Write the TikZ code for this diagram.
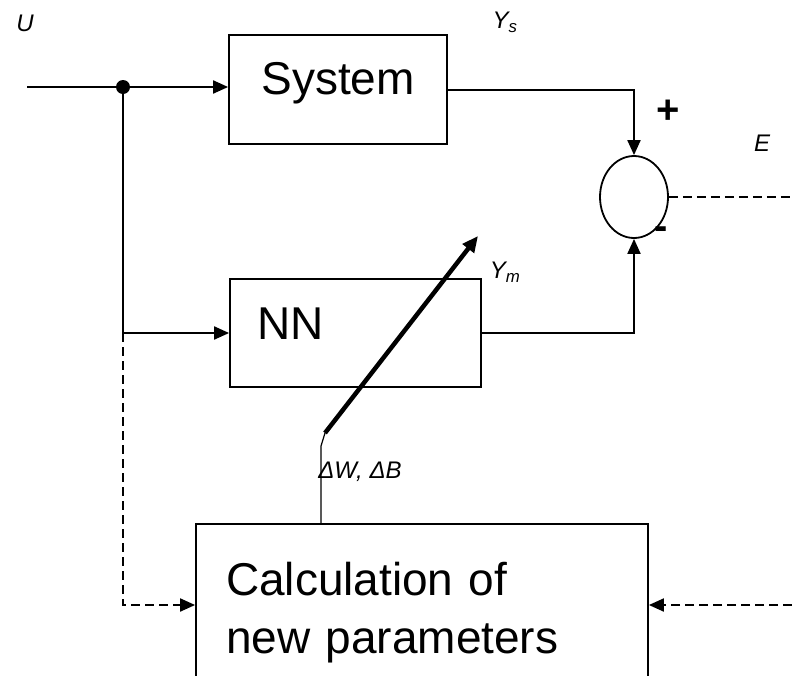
\documentclass[tikz,border=0pt]{standalone}
\usepackage{fontspec}
\setmainfont{Liberation Sans}
\usetikzlibrary{shapes.geometric, arrows.meta, positioning, calc}

\begin{document}
\begin{tikzpicture}[
        x=1pt, y=-1pt,
        block/.style={draw, line width=1.8pt, font=\fontsize{46}{58}\selectfont, inner sep=0pt},
        summer/.style={ellipse, draw, line width=1.8pt, minimum width=68pt, minimum height=82pt, inner sep=0pt},
        tag/.style={font=\fontsize{24}{26}\selectfont\itshape, inner sep=0pt},
        sign/.style={font=\fontsize{40}{40}\selectfont\bfseries, inner sep=0pt},
        signal/.style={line width=2pt, -{Triangle[length=15pt, width=13pt]}},
        wire/.style={line width=2pt},
        feedback/.style={line width=2pt, dash pattern=on 9pt off 5pt, -{Triangle[length=15pt, width=13pt]}},
        adjust/.style={line width=4.5pt, -{Triangle[length=16pt, width=14pt]}}
    ]
    \path[use as bounding box, clip] (0,0) rectangle (792,675);

    % Blocks
    \node[block, minimum width=218pt, minimum height=109pt, text height=34pt, text depth=25pt] (sys) at (338, 89.5) {System};
    \node[block, minimum width=251pt, minimum height=108pt, inner xsep=27pt, text width=197pt, align=left, text height=34pt, text depth=22pt] (nn) at (355.5, 333) {NN};
    \node[block, minimum width=452pt, minimum height=176pt, inner xsep=30pt, text width=392pt, align=left, text height=34pt, text depth=68pt] (calc) at (422, 612) {Calculation of\\new parameters};
    \node[summer] (sum) at (634, 197) {};
    \node[circle, fill, inner sep=0pt, minimum size=14pt] (split) at (123, 87) {};

    % Free ends
    \coordinate (uin) at (27, 87);
    \coordinate (tap) at (123, 333);
    \coordinate (eout) at (792, 197);
    \coordinate (ein) at (792, 605);
    \coordinate (dwb) at (321, 446);
    \coordinate (tail) at (325, 433);
    \coordinate (tip) at (478, 236);

    % Labels
    \node[tag] (u) at (25, 23) {U};
    \node[tag] (ys) at (505, 22) {Y\textsubscript{s}};
    \node[tag] (ym) at (505, 272) {Y\textsubscript{m}};
    \node[tag] (e) at (762, 143) {E};
    \node[tag] (dwdb) at (360, 472) {ΔW, ΔB};
    \node[sign] (plus) at (668, 112) {+};
    \node[sign] (minus) at (661, 233) {-};

    % Signals
    \draw[wire] (uin) -- (split);
    \draw[signal] (split) -- (sys.west |- split);
    \draw[signal] (sys.east) -| (sum.north);
    \draw[wire] (split) -- (tap);
    \draw[signal] (tap) -- (nn.west |- tap);
    \draw[signal] (nn.east) -| (sum.south);
    \draw[feedback, -] (sum.east) -- (eout);

    % Learning
    \draw[feedback] (tap) |- (calc.west |- ein);
    \draw[feedback] (ein) -- (calc.east |- ein);
    \draw[line width=1.2pt] (calc.north -| dwb) -- (dwb) -- (tail);
    \draw[adjust] (tail) -- (tip);

\end{tikzpicture}
\end{document}
